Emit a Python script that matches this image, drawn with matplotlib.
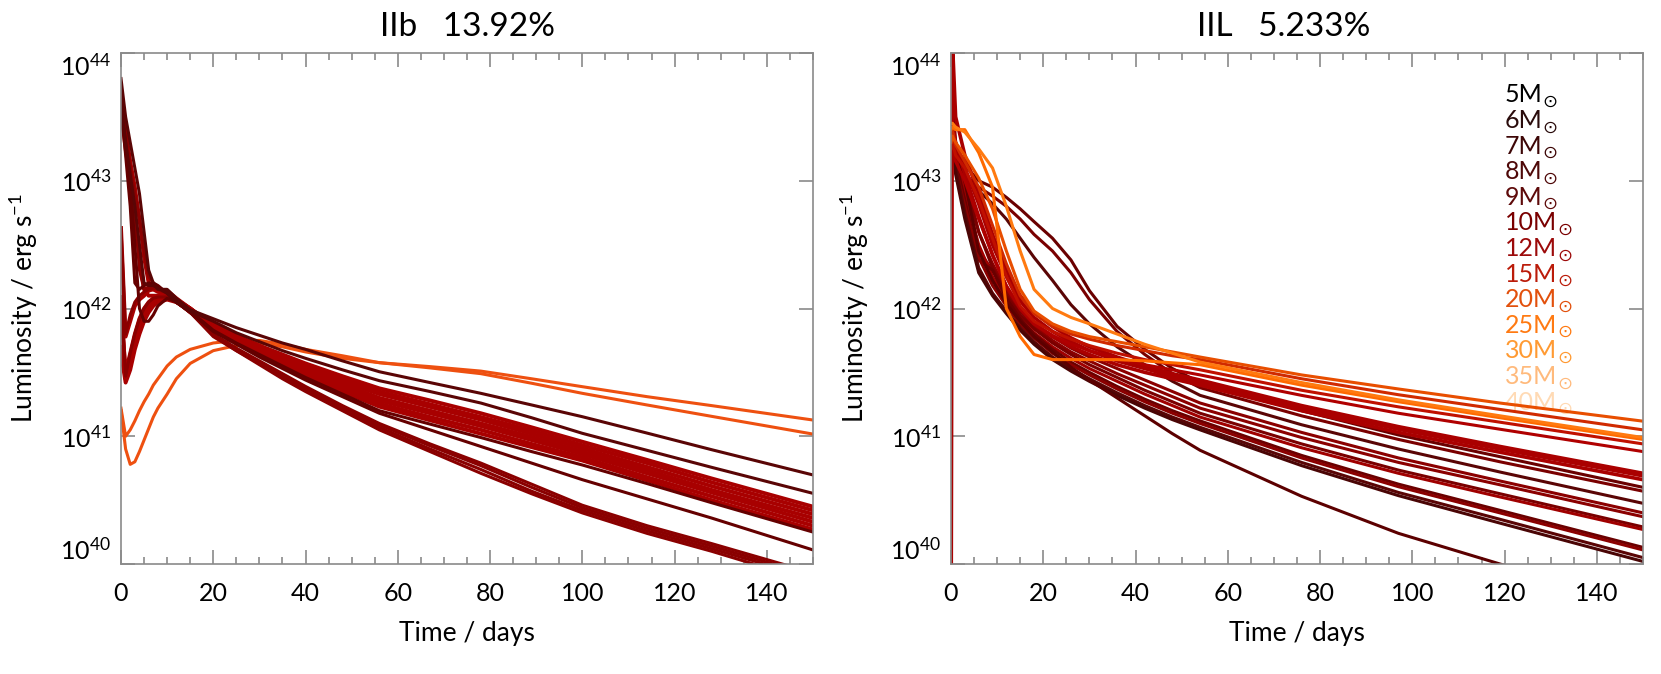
import numpy as np
import matplotlib
matplotlib.use("Agg")
import matplotlib.pyplot as plt
from matplotlib.ticker import MultipleLocator, NullLocator
from matplotlib.transforms import offset_copy

plt.rcParams['font.family'] = ['Lato', 'DejaVu Sans']
plt.rcParams['font.weight'] = 'normal'
plt.rcParams['mathtext.fontset'] = 'custom'
plt.rcParams['mathtext.rm'] = 'Lato'
plt.rcParams['mathtext.default'] = 'regular'

titles = ["IIb   13.92%", "IIL   5.233%"]

# ---------------- data: left panel (IIb), log10 L ----------------
t_iib = [0, 1, 2, 3, 4, 5, 6, 7, 8, 10, 12, 15, 20, 25, 30, 35, 40, 48, 56, 67, 78, 89, 100, 114, 128, 150]

iib_orA = [41.22, 41.00, 41.05, 41.12, 41.20, 41.27, 41.33, 41.40, 41.45, 41.55, 41.62, 41.68, 41.73, 41.75, 41.75, 41.72, 41.68, 41.63, 41.576, 41.545, 41.51, 41.45, 41.388, 41.31, 41.24, 41.127]
iib_orB = [41.20, 40.90, 40.78, 40.80, 40.88, 40.97, 41.06, 41.15, 41.22, 41.33, 41.45, 41.57, 41.67, 41.71, 41.73, 41.70, 41.66, 41.61, 41.576, 41.535, 41.49, 41.415, 41.336, 41.245, 41.156, 41.017]
iib_d1 = [43.80, 43.50, 43.30, 43.10, 42.90, 42.60, 42.30, 42.20, 42.15, 42.15, 42.08, 41.99, 41.92, 41.85, 41.79, 41.73, 41.68, 41.59, 41.505, 41.42, 41.336, 41.245, 41.153, 41.025, 40.895, 40.697]
iib_d2 = [43.62, 43.30, 43.05, 42.80, 42.50, 42.20, 42.18, 42.18, 42.16, 42.12, 42.05, 41.98, 41.90, 41.81, 41.74, 41.67, 41.61, 41.52, 41.435, 41.35, 41.26, 41.145, 41.023, 40.89, 40.757, 40.553]
iib_b1 = [43.70, 43.40, 43.15, 42.95, 42.70, 42.40, 42.20, 42.15, 42.13, 42.12, 42.06, 41.97, 41.88, 41.79, 41.71, 41.64, 41.57, 41.47, 41.375, 41.28, 41.18, 41.07, 40.957, 40.815, 40.67, 40.449]
iib_b2 = [42.63, 41.78, 41.90, 42.02, 42.07, 42.10, 42.14, 42.15, 42.15, 42.14, 42.08, 42.00, 41.87, 41.78, 41.70, 41.62, 41.56, 41.45, 41.35, 41.25, 41.15, 41.045, 40.93, 40.79, 40.64, 40.42]
iib_b3 = [41.70, 41.45, 41.58, 41.72, 41.85, 41.95, 42.00, 42.04, 42.06, 42.08, 42.06, 42.00, 41.87, 41.77, 41.69, 41.61, 41.54, 41.43, 41.33, 41.23, 41.13, 41.02, 40.905, 40.76, 40.61, 40.39]
iib_b4 = [42.09, 41.45, 41.62, 41.78, 41.90, 41.99, 42.03, 42.06, 42.08, 42.09, 42.07, 42.00, 41.86, 41.77, 41.68, 41.60, 41.52, 41.41, 41.30, 41.20, 41.10, 40.995, 40.88, 40.735, 40.58, 40.36]
iib_b5 = [41.65, 41.42, 41.52, 41.68, 41.80, 41.90, 41.97, 42.02, 42.05, 42.07, 42.05, 41.99, 41.85, 41.76, 41.67, 41.59, 41.51, 41.39, 41.28, 41.18, 41.08, 40.97, 40.86, 40.71, 40.56, 40.33]
iib_b6 = [43.55, 43.25, 43.00, 42.70, 42.40, 42.15, 42.10, 42.10, 42.10, 42.10, 42.05, 41.98, 41.85, 41.75, 41.66, 41.58, 41.50, 41.37, 41.255, 41.15, 41.05, 40.94, 40.835, 40.68, 40.53, 40.30]
iib_b7 = [42.00, 41.50, 41.65, 41.80, 41.92, 42.00, 42.05, 42.08, 42.10, 42.10, 42.07, 42.00, 41.84, 41.74, 41.65, 41.56, 41.48, 41.35, 41.232, 41.125, 41.02, 40.915, 40.81, 40.655, 40.50, 40.27]
iib_d3 = [43.60, 43.30, 43.00, 42.50, 42.00, 41.90, 41.90, 41.95, 42.02, 42.08, 42.05, 41.98, 41.83, 41.73, 41.64, 41.55, 41.46, 41.33, 41.20, 41.095, 40.99, 40.88, 40.775, 40.63, 40.48, 40.25]
iib_d4 = [43.58, 43.20, 42.80, 42.20, 42.15, 42.18, 42.20, 42.20, 42.18, 42.12, 42.05, 41.97, 41.82, 41.72, 41.62, 41.53, 41.44, 41.31, 41.18, 41.05, 40.92, 40.79, 40.66, 40.51, 40.36, 40.11]
iib_l1 = [43.70, 43.40, 43.10, 42.80, 42.30, 42.15, 42.17, 42.18, 42.17, 42.12, 42.05, 41.97, 41.80, 41.69, 41.59, 41.49, 41.39, 41.24, 41.10, 40.94, 40.79, 40.625, 40.46, 40.30, 40.16, 39.93]
iib_l2 = [42.63, 41.80, 41.95, 42.05, 42.10, 42.13, 42.15, 42.16, 42.15, 42.12, 42.06, 41.98, 41.79, 41.68, 41.58, 41.48, 41.38, 41.23, 41.09, 40.925, 40.77, 40.60, 40.44, 40.28, 40.14, 39.91]
iib_l3 = [43.50, 43.30, 43.10, 42.90, 42.70, 42.45, 42.25, 42.20, 42.17, 42.12, 42.05, 41.97, 41.79, 41.67, 41.57, 41.46, 41.36, 41.21, 41.07, 40.90, 40.74, 40.57, 40.42, 40.26, 40.12, 39.89]
iib_l4 = [42.09, 41.47, 41.65, 41.80, 41.92, 42.00, 42.05, 42.08, 42.09, 42.09, 42.05, 41.97, 41.78, 41.67, 41.56, 41.45, 41.35, 41.20, 41.05, 40.88, 40.71, 40.55, 40.40, 40.24, 40.10, 39.86]

iib_curves = [iib_orA, iib_orB, iib_b1, iib_b2, iib_b3, iib_b4, iib_b5, iib_b6, iib_b7,
              iib_l1, iib_l2, iib_l3, iib_l4, iib_d3, iib_d4, iib_d1, iib_d2]
iib_colors = ['#ee5010', '#ee5010', '#a80000', '#a80000', '#a80000', '#a80000', '#a80000', '#a80000', '#a80000',
              '#8a0000', '#8a0000', '#8a0000', '#8a0000', '#650000', '#650000', '#5a0505', '#5a0505']
iib_widths = [2.2, 2.2, 2.8, 2.8, 2.8, 2.8, 2.8, 2.8, 2.8,
              2.2, 2.2, 2.2, 2.2, 2.2, 2.2, 2.2, 2.2]

# ---------------- data: right panel (IIL), log10 L ----------------
t_iil = [0, 0.3, 1, 3, 6, 9, 12, 15, 18, 22, 26, 30, 36, 42, 48, 54, 76, 97, 119, 150]

iil_r1 = [43.30, 43.35, 43.30, 43.20, 43.02, 42.78, 42.45, 42.15, 41.98, 41.88, 41.82, 41.78, 41.74, 41.70, 41.66, 41.62, 41.48, 41.37, 41.26, 41.118]
iil_r2 = [43.35, 43.40, 43.28, 43.15, 42.95, 42.65, 42.35, 42.10, 41.96, 41.86, 41.80, 41.76, 41.71, 41.67, 41.63, 41.60, 41.45, 41.325, 41.21, 41.05]
iil_r3a = [43.45, 43.45, 43.42, 43.38, 43.25, 43.10, 42.80, 42.45, 42.15, 42.00, 41.93, 41.88, 41.80, 41.72, 41.65, 41.58, 41.42, 41.285, 41.16, 40.99]
iil_r3b = [43.40, 43.42, 43.40, 43.40, 43.22, 42.95, 42.00, 41.78, 41.64, 41.60, 41.60, 41.60, 41.60, 41.59, 41.575, 41.56, 41.40, 41.27, 41.145, 40.975]
iil_r4 = [43.25, 43.30, 43.20, 43.10, 42.85, 42.55, 42.25, 42.02, 41.90, 41.82, 41.76, 41.71, 41.65, 41.60, 41.56, 41.52, 41.36, 41.23, 41.11, 40.94]
iil_r5 = [43.20, 43.25, 43.15, 43.00, 42.70, 42.42, 42.18, 42.00, 41.88, 41.79, 41.72, 41.67, 41.61, 41.56, 41.52, 41.48, 41.32, 41.18, 41.055, 40.88]
iil_r6a = [39.00, 44.10, 43.50, 43.20, 42.90, 42.58, 42.30, 42.10, 41.97, 41.86, 41.77, 41.70, 41.62, 41.55, 41.49, 41.44, 41.24, 41.075, 40.92, 40.71]
iil_r6b = [43.30, 43.35, 43.25, 43.10, 42.82, 42.50, 42.25, 42.06, 41.93, 41.82, 41.74, 41.67, 41.59, 41.53, 41.47, 41.42, 41.22, 41.055, 40.90, 40.69]
iil_r6c = [43.40, 43.45, 43.30, 43.05, 42.72, 42.42, 42.17, 42.00, 41.88, 41.78, 41.70, 41.64, 41.56, 41.50, 41.45, 41.40, 41.20, 41.03, 40.875, 40.66]
iil_r7 = [43.30, 43.40, 43.25, 43.12, 43.00, 42.95, 42.87, 42.78, 42.68, 42.55, 42.38, 42.14, 41.86, 41.68, 41.53, 41.42, 41.20, 41.01, 40.84, 40.60]
iil_r8 = [43.25, 43.35, 43.20, 43.05, 42.95, 42.88, 42.80, 42.70, 42.58, 42.45, 42.28, 42.07, 41.82, 41.64, 41.49, 41.38, 41.16, 40.975, 40.80, 40.57]
iil_r9 = [43.30, 43.35, 43.20, 43.05, 42.92, 42.82, 42.70, 42.55, 42.40, 42.22, 42.03, 41.88, 41.70, 41.56, 41.43, 41.32, 41.09, 40.90, 40.72, 40.475]
iil_r10 = [43.90, 43.70, 43.30, 43.05, 42.60, 42.35, 42.15, 42.00, 41.88, 41.78, 41.69, 41.62, 41.53, 41.44, 41.35, 41.26, 41.03, 40.83, 40.65, 40.40]
iil_r11 = [43.45, 43.50, 43.25, 43.00, 42.45, 42.30, 42.12, 41.98, 41.86, 41.75, 41.66, 41.59, 41.49, 41.40, 41.31, 41.22, 40.99, 40.795, 40.62, 40.37]
iil_r12 = [43.40, 43.45, 43.20, 42.95, 42.60, 42.32, 42.10, 41.95, 41.84, 41.73, 41.64, 41.56, 41.46, 41.36, 41.27, 41.18, 40.94, 40.735, 40.55, 40.29]
iil_r13 = [43.35, 43.40, 43.20, 42.90, 42.50, 42.25, 42.06, 41.92, 41.81, 41.70, 41.61, 41.53, 41.43, 41.33, 41.24, 41.15, 40.91, 40.71, 40.525, 40.27]
iil_r14 = [43.30, 43.35, 43.15, 42.85, 42.38, 42.30, 42.08, 41.92, 41.80, 41.68, 41.58, 41.50, 41.39, 41.29, 41.20, 41.12, 40.85, 40.625, 40.42, 40.13]
iil_r15 = [43.40, 43.45, 43.10, 42.80, 42.40, 42.18, 42.02, 41.88, 41.77, 41.65, 41.56, 41.48, 41.37, 41.27, 41.18, 41.10, 40.83, 40.605, 40.40, 40.11]
iil_r16 = [43.35, 43.40, 43.10, 42.75, 42.32, 42.12, 41.98, 41.85, 41.74, 41.62, 41.53, 41.45, 41.34, 41.24, 41.15, 41.07, 40.795, 40.56, 40.35, 40.05]
iil_r17 = [43.30, 43.35, 43.05, 42.70, 42.28, 42.10, 41.96, 41.83, 41.72, 41.60, 41.51, 41.43, 41.32, 41.22, 41.13, 41.05, 40.77, 40.535, 40.32, 40.02]
iil_r5m = [43.40, 43.45, 43.30, 43.00, 42.45, 42.22, 42.04, 41.90, 41.78, 41.66, 41.54, 41.44, 41.30, 41.16, 41.02, 40.89, 40.53, 40.24, 40.00, 39.68]

iil_curves = [iil_r7, iil_r8, iil_r9, iil_r10, iil_r11, iil_r12, iil_r13, iil_r14, iil_r15,
              iil_r16, iil_r17, iil_r5m, iil_r6a, iil_r6b, iil_r6c, iil_r5, iil_r4,
              iil_r2, iil_r1, iil_r3b, iil_r3a]
iil_colors = ['#6a0000', '#7a0000', '#5a0505', '#8b0000', '#8b0000', '#7a0000', '#a00000', '#6a0000', '#8b0000',
              '#5a0505', '#4a0505', '#5c0000', '#aa0000', '#aa0000', '#aa0000', '#b00000', '#c01000',
              '#d02a00', '#e84e00', '#ff6a00', '#ff7a10']
iil_widths = [2.2] * 12 + [2.6, 2.6, 2.6] + [2.2] * 6

# ---------------- legend ----------------
masses = [5, 6, 7, 8, 9, 10, 12, 15, 20, 25, 30, 35, 40]
mass_colors = ['#000000', '#2a0c0c', '#3d0606', '#4e0808', '#5e0a0a', '#7a0000', '#9c0a0a', '#bb1c0a',
               '#e2500c', '#ff7a12', '#ff9a32', '#ffba7c', '#ffdab4']

# ---------------- figure ----------------
W, H = 1661, 674
fig = plt.figure(figsize=(W / 100, H / 100), dpi=100)
ax_left = fig.add_axes([121 / W, 1 - 564 / H, 692 / W, 511 / H])
ax_right = fig.add_axes([951 / W, 1 - 564 / H, 692 / W, 511 / H])

for ax, tt, curves, cols, wids in [(ax_left, t_iib, iib_curves, iib_colors, iib_widths),
                                   (ax_right, t_iil, iil_curves, iil_colors, iil_widths)]:
    for y, c, w in zip(curves, cols, wids):
        ax.plot(tt, 10 ** np.array(y), color=c, lw=w, solid_joinstyle='round', zorder=2)
    ax.set_yscale('log')
    ax.set_xlim(0, 150)
    ax.set_ylim(1e40, 1e44)
    ax.xaxis.set_major_locator(MultipleLocator(20))
    ax.xaxis.set_minor_locator(MultipleLocator(5))
    ax.set_yticks([1e40, 1e41, 1e42, 1e43, 1e44])
    ax.yaxis.set_minor_locator(NullLocator())
    ax.set_yticklabels([r'$10^{40}$', r'$10^{41}$', r'$10^{42}$', r'$10^{43}$', r'$10^{44}$'])
    for s in ax.spines.values():
        s.set_color('#8a8a8a')
        s.set_linewidth(1.2)
    ax.tick_params(which='both', direction='in', top=True, right=True, colors='#8a8a8a',
                   labelcolor='black', width=1.2)
    ax.tick_params(which='major', length=10)
    ax.tick_params(which='minor', length=5)
    ax.tick_params(axis='x', labelsize=18, pad=13)
    ax.tick_params(axis='y', labelsize=18, pad=7)
    labs = ax.get_yticklabels()
    labs[0].set_va('bottom')
    labs[-1].set_va('top')

for title, xc in [(titles[0], 467), (titles[1], 1284)]:
    fig.text(xc / W, 1 - 27 / H, title, ha='center', va='center', fontsize=24)

fig.text(467 / W, 1 - 633 / H, 'Time / days', ha='center', va='center', fontsize=19)
fig.text(1297 / W, 1 - 633 / H, 'Time / days', ha='center', va='center', fontsize=19)
fig.text(24 / W, 1 - 308 / H, r'Luminosity / erg s$^{-1}$', ha='center', va='center',
         rotation=90, fontsize=19)
fig.text(855 / W, 1 - 308 / H, r'Luminosity / erg s$^{-1}$', ha='center', va='center',
         rotation=90, fontsize=19)

for i, (m, c) in enumerate(zip(masses, mass_colors)):
    yfrac = 0.918 - i * 0.0501
    ax_right.text(0.80, yfrac, f'{m}M', color=c, fontsize=18,
                  ha='left', va='center', transform=ax_right.transAxes, zorder=1)
    dx = 45 if m < 10 else 60
    tr = offset_copy(ax_right.transAxes, fig=fig, x=dx * 0.72, y=-7 * 0.72, units='points')
    ax_right.text(0.80, yfrac, '\u2299', color=c, fontsize=13, family='DejaVu Sans',
                  ha='center', va='center', transform=tr, zorder=1)

fig.savefig('out.png', dpi=100)
